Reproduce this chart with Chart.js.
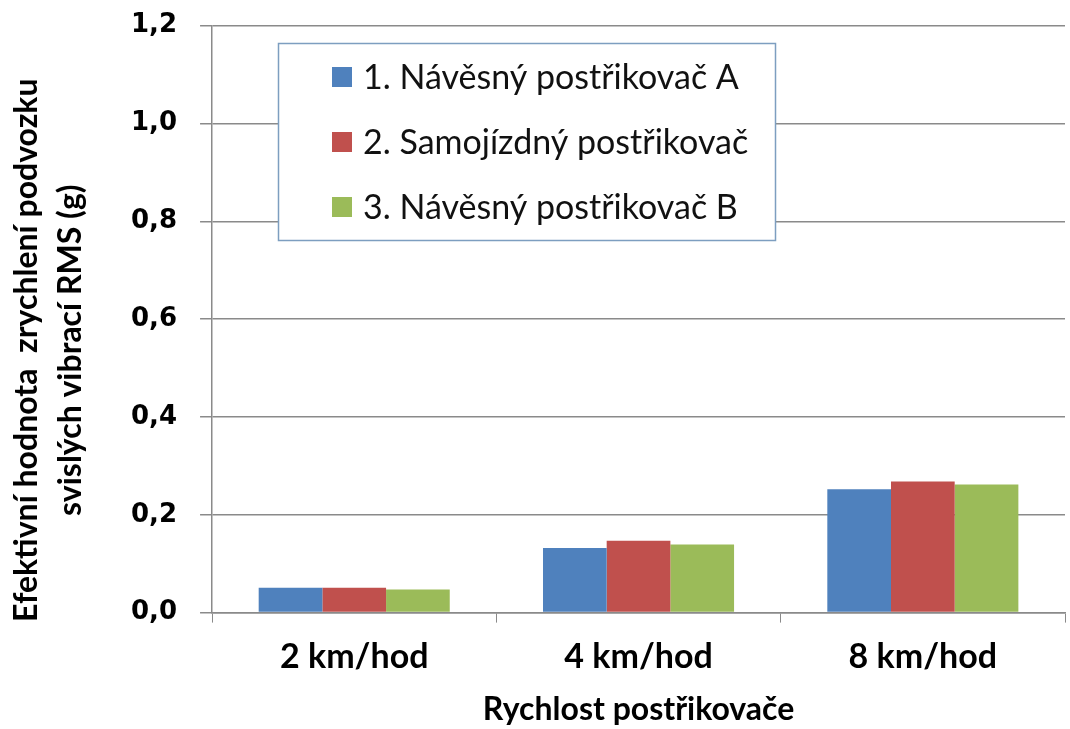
<!DOCTYPE html>
<html>
<head>
<meta charset="utf-8">
<title>Rychlost postřikovače</title>
<script src="https://cdn.jsdelivr.net/npm/chart.js@4.4.1/dist/chart.umd.min.js"></script>
<style>
  body { margin: 0; background: #fff; }
  canvas { display: block; }
</style>
</head>
<body>
<canvas id="chart" width="1070" height="729"></canvas>
<script>
// categories and values
const speeds = ['2 km/hod', '4 km/hod', '8 km/hod'];
const seriesNames = ['1. Návěsný postřikovač A', '2. Samojízdný postřikovač', '3. Návěsný postřikovač B'];
const navesnyA = [0.051, 0.132, 0.252];
const samojizdny = [0.051, 0.147, 0.268];
const navesnyB = [0.047, 0.139, 0.262];
const yTicks = [0, 0.2, 0.4, 0.6, 0.8, 1.0, 1.2];

const colors = ['#4f81bd', '#c0504d', '#9bbb59'];
const gridColor = '#8a8a8a';

// trailing spaces push the rotated title a bit down, as in the original
const pad = '        ';

// legend drawn as a framed box inside the plot, like the original
const boxLegend = {
  id: 'boxLegend',
  afterDraw(chart) {
    const ctx = chart.ctx;
    const x = 278, y = 43, w = 497, h = 197;
    ctx.save();
    ctx.fillStyle = '#fff';
    ctx.fillRect(x, y, w, h);
    ctx.strokeStyle = '#7d9ec0';
    ctx.lineWidth = 1.5;
    ctx.strokeRect(x + 0.5, y + 0.5, w, h);
    ctx.font = '34px Lato';
    ctx.textBaseline = 'middle';
    chart.data.datasets.forEach((ds, i) => {
      const cy = 77 + i * 65;
      ctx.fillStyle = ds.backgroundColor;
      ctx.fillRect(332, cy - 10, 20, 20);
      ctx.fillStyle = '#111';
      ctx.fillText(ds.label, 363, cy + 1);
    });
    ctx.restore();
  }
};

const ctx = document.getElementById('chart').getContext('2d');
new Chart(ctx, {
  type: 'bar',
  data: {
    labels: speeds,
    datasets: [
      { label: seriesNames[0], data: navesnyA, backgroundColor: colors[0] },
      { label: seriesNames[1], data: samojizdny, backgroundColor: colors[1] },
      { label: seriesNames[2], data: navesnyB, backgroundColor: colors[2] },
    ],
  },
  options: {
    responsive: false,
    animation: false,
    datasets: {
      bar: { categoryPercentage: 0.672, barPercentage: 1.0 }
    },
    layout: { padding: { left: 5, right: 5, top: 25, bottom: 0 } },
    plugins: {
      legend: { display: false },
      tooltip: { enabled: false },
    },
    scales: {
      x: {
        grid: {
          display: true,
          drawOnChartArea: false,
          drawTicks: true,
          tickLength: 10,
          color: gridColor,
        },
        border: { display: true, color: gridColor, width: 1.5 },
        ticks: {
          color: '#000',
          padding: 17,
          font: { family: 'Lato', weight: 'bold', size: 34, lineHeight: 1.0 },
        },
        title: {
          display: true,
          text: 'Rychlost postřikovače',
          color: '#000',
          font: { family: 'Lato', weight: 'bold', size: 32 },
          padding: { top: 0, bottom: 0 },
        },
      },
      y: {
        min: 0,
        max: 1.2,
        afterBuildTicks(scale) {
          scale.ticks = yTicks.map(v => ({ value: v }));
        },
        grid: {
          color: gridColor,
          lineWidth: 1.5,
          tickLength: 12,
        },
        border: { display: true, color: gridColor, width: 1.5 },
        ticks: {
          color: '#000',
          padding: 23,
          font: { family: 'DejaVu Sans', weight: 'bold', size: 26, lineHeight: 0.2 },
          callback: v => v.toFixed(1).replace('.', ','),
        },
        title: {
          display: true,
          text: ['Efektivní hodnota  zrychlení podvozku' + pad, 'svislých vibrací RMS (g)' + pad],
          color: '#000',
          font: { family: 'Lato', weight: 'bold', size: 32, lineHeight: 1.375 },
          padding: { top: 0, bottom: 15 },
        },
      },
    },
  },
  plugins: [boxLegend],
});
</script>
</body>
</html>
